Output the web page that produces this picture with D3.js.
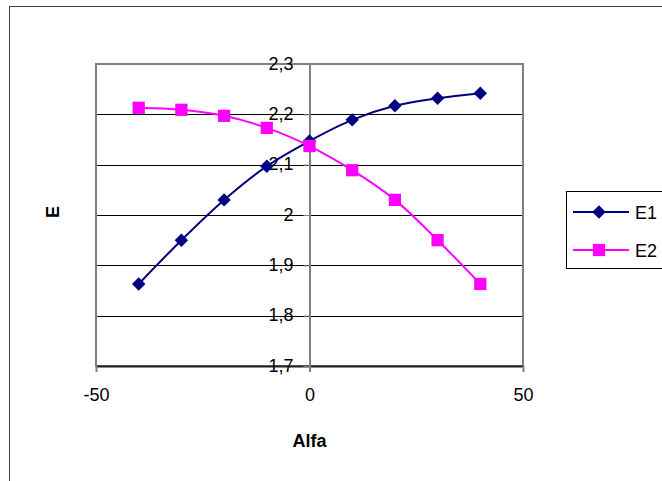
<!DOCTYPE html>
<html>
<head>
<meta charset="utf-8">
<script src="https://cdn.jsdelivr.net/npm/d3@7"></script>
<style>
  body { margin: 0; background: #fff; }
  text { font-family: "Liberation Sans", Arial, sans-serif; }
</style>
</head>
<body>
<svg id="chart" width="662" height="481"></svg>
<script>
var alfa = [-40, -30, -20, -10, 0, 10, 20, 30, 40];
var e1 = [1.863, 1.950, 2.030, 2.097, 2.147, 2.189, 2.217, 2.232, 2.242];
var e2 = [2.213, 2.209, 2.197, 2.173, 2.137, 2.089, 2.030, 1.950, 1.863];
var seriesNames = ["E1", "E2"];
var yTicks = [1.7, 1.8, 1.9, 2.0, 2.1, 2.2, 2.3];
var xTicks = [-50, 0, 50];

window.addEventListener( "load", makeChart );
function makeChart() {
    var svg = d3.select( "#chart" );
    var fmt = d => String( +d.toFixed(1) ).replace( ".", "," );

    // outer chart frame
    svg.append( "rect" ).attr( "x", 9.5 ).attr( "y", 6.5 )
        .attr( "width", 700 ).attr( "height", 600 )
        .attr( "fill", "none" ).attr( "stroke", "#404040" ).attr( "stroke-width", 1 );

    var x = d3.scaleLinear().domain( [-50, 50] ).range( [96, 523] );
    var y = d3.scaleLinear().domain( [1.7, 2.3] ).range( [366, 64] );

    // gridlines
    svg.append( "g" ).selectAll( "line" ).data( yTicks.slice(1, -1) ).enter()
        .append( "line" ).attr( "x1", 96 ).attr( "x2", 523 )
        .attr( "y1", d=>Math.round(y(d))+0.5 ).attr( "y2", d=>Math.round(y(d))+0.5 )
        .attr( "stroke", "#000" ).attr( "stroke-width", 1 );

    // plot area border
    svg.append( "rect" ).attr( "x", 96 ).attr( "y", 64 )
        .attr( "width", 427 ).attr( "height", 302 )
        .attr( "fill", "none" ).attr( "stroke", "#808080" ).attr( "stroke-width", 2 );

    // x axis at the bottom
    var gx = svg.append( "g" ).attr( "transform", "translate(0,366)" )
        .call( d3.axisBottom( x ).tickValues( xTicks ).tickFormat( d=>String(d) )
               .tickSize( 6 ).tickSizeOuter( 0 ) );
    gx.select( ".domain" ).attr( "stroke", "#202020" ).attr( "stroke-width", 2 );
    gx.selectAll( ".tick line" ).attr( "stroke", "#808080" ).attr( "stroke-width", 2 );
    gx.selectAll( ".tick text" ).attr( "font-size", 18 ).attr( "y", 22 ).attr( "dy", "0.71em" )
        .attr( "font-family", "Liberation Sans, Arial, sans-serif" ).attr( "fill", "#000" );

    // y axis crossing at x = 0
    var gy = svg.append( "g" ).attr( "transform", "translate(" + x(0) + ",0)" )
        .call( d3.axisLeft( y ).tickValues( yTicks ).tickFormat( fmt ).tickSize( 6 ).tickSizeOuter( 0 ) );
    gy.select( ".domain" ).attr( "stroke", "#808080" ).attr( "stroke-width", 2 );
    gy.selectAll( ".tick line" ).attr( "stroke", "#808080" ).attr( "stroke-width", 1 );
    gy.selectAll( ".tick text" ).attr( "font-size", 18 ).attr( "x", -16 ).attr( "dy", "0.28em" )
        .attr( "font-family", "Liberation Sans, Arial, sans-serif" ).attr( "fill", "#000" );

    // axis titles
    svg.append( "text" ).attr( "x", x(0) ).attr( "y", 447 )
        .attr( "text-anchor", "middle" ).attr( "font-size", 18 ).attr( "font-weight", "bold" )
        .text( "Alfa" );
    svg.append( "text" ).attr( "transform", "translate(59,212) rotate(-90)" )
        .attr( "text-anchor", "middle" ).attr( "font-size", 18 ).attr( "font-weight", "bold" )
        .text( "E" );

    var lnMkr = d3.line().x( d=>x(d[0]) ).y( d=>y(d[1]) ).curve( d3.curveCatmullRom.alpha(0.5) );
    var sets = [ { name: seriesNames[0], vals: e1, color: "#000080", rot: 45, size: 90 },
                 { name: seriesNames[1], vals: e2, color: "#FF00FF", rot: 0, size: 150 } ];
    var sym = s => d3.symbol().type( d3.symbolSquare ).size( s.size )();

    sets.forEach( function(s) {
        var pts = alfa.map( (a,i) => [a, s.vals[i]] );
        svg.append( "path" ).attr( "d", lnMkr(pts) )
            .attr( "fill", "none" ).attr( "stroke", s.color ).attr( "stroke-width", 2 );
        svg.append( "g" ).selectAll( "path" ).data( pts ).enter()
            .append( "path" ).attr( "d", sym(s) )
            .attr( "transform", d=>"translate(" + x(d[0]) + "," + y(d[1]) + ") rotate(" + s.rot + ")" )
            .attr( "fill", s.color );
    } );

    // legend
    var lg = svg.append( "g" );
    lg.append( "rect" ).attr( "x", 566.5 ).attr( "y", 191.5 )
        .attr( "width", 100 ).attr( "height", 77 )
        .attr( "fill", "#fff" ).attr( "stroke", "#000" ).attr( "stroke-width", 1 );
    sets.forEach( function(s, i) {
        var ly = 212 + i*38;
        lg.append( "line" ).attr( "x1", 573 ).attr( "x2", 629 )
            .attr( "y1", ly ).attr( "y2", ly )
            .attr( "stroke", s.color ).attr( "stroke-width", 2 );
        lg.append( "path" ).attr( "d", sym(s) )
            .attr( "transform", "translate(599," + ly + ") rotate(" + s.rot + ")" ).attr( "fill", s.color );
        lg.append( "text" ).attr( "x", 635 ).attr( "y", ly + 7 )
            .attr( "font-size", 18 ).text( s.name );
    } );
}
</script>
</body>
</html>
